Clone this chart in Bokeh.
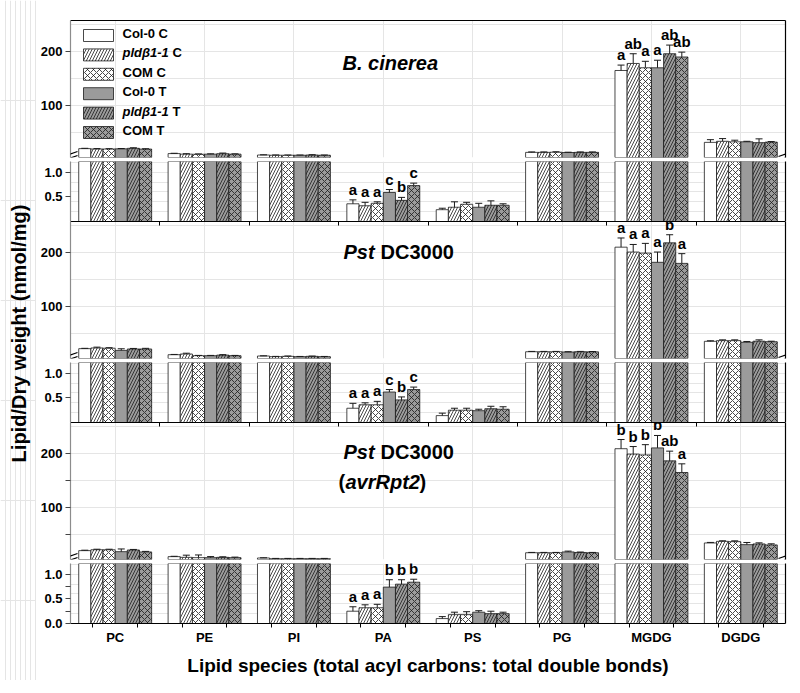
import numpy as np
from bokeh.plotting import figure
from bokeh.core.properties import value
from bokeh.models import (Range1d, LinearAxis, FixedTicker, ColumnDataSource, LabelSet,
                          Label, BoxAnnotation, Arrow, PrintfTickFormatter,
                          CDSView, BooleanFilter)
from bokeh.layouts import row, column
from bokeh.embed import file_html
from bokeh.resources import INLINE

lipids = ["PC", "PE", "PI", "PA", "PS", "PG", "MGDG", "DGDG"]
series = ["Col-0 C", "pldβ1-1 C", "COM C", "Col-0 T", "pldβ1-1 T", "COM T"]

# ---- Panel 1: B. cinerea (nmol/mg, one value per lipid) ----
bc_col0_c = [20.4, 11.2, 8.6, 0.36, 0.24, 13.5, 165.0, 32.0]
bc_pld_c  = [19.7, 10.2, 8.2, 0.32, 0.29, 13.5, 178.0, 34.0]
bc_com_c  = [19.7, 10.0, 8.2, 0.37, 0.35, 13.8, 170.0, 33.0]
bc_col0_t = [20.0, 10.2, 8.2, 0.59, 0.29, 13.2, 170.0, 33.0]
bc_pld_t  = [21.0, 11.0, 8.6, 0.43, 0.33, 13.5, 196.0, 31.5]
bc_com_t  = [19.6, 10.2, 8.2, 0.73, 0.33, 13.5, 190.0, 32.5]
bc_col0_c_err = [0.6, 0.6, 0.4, 0.08, 0.03, 0.8, 10.0, 5.0]
bc_pld_c_err  = [0.8, 0.8, 0.5, 0.07, 0.11, 0.8, 18.0, 5.0]
bc_com_c_err  = [0.6, 0.6, 0.4, 0.03, 0.04, 0.8, 12.0, 3.0]
bc_col0_t_err = [0.6, 0.6, 0.4, 0.06, 0.08, 0.6, 14.0, 1.0]
bc_pld_t_err  = [1.0, 1.2, 0.6, 0.06, 0.09, 0.8, 16.0, 7.0]
bc_com_t_err  = [0.6, 0.6, 0.4, 0.05, 0.03, 0.8, 9.0, 1.0]
bc_pa_letters   = ["a", "a", "a", "c", "b", "c"]
bc_mgdg_letters = ["a", "ab", "a", "a", "ab", "ab"]

# ---- Panel 2: Pst DC3000 ----
pst_col0_c = [22.2, 11.0, 8.6, 0.29, 0.14, 16.5, 210.0, 35.8]
pst_pld_c  = [23.5, 12.3, 7.4, 0.36, 0.25, 16.5, 201.0, 37.0]
pst_com_c  = [23.0, 9.2, 8.0, 0.36, 0.25, 16.5, 199.0, 37.0]
pst_col0_t = [19.0, 9.2, 7.4, 0.62, 0.24, 16.0, 182.0, 34.0]
pst_pld_t  = [21.6, 10.3, 8.0, 0.46, 0.28, 16.5, 218.0, 36.0]
pst_com_t  = [21.6, 9.2, 7.4, 0.67, 0.27, 16.3, 180.0, 35.0]
pst_col0_c_err = [0.6, 0.5, 0.4, 0.10, 0.05, 0.6, 17.0, 1.0]
pst_pld_c_err  = [1.5, 1.5, 0.5, 0.04, 0.04, 0.6, 14.0, 1.5]
pst_com_c_err  = [1.0, 0.5, 0.6, 0.07, 0.04, 0.6, 18.0, 1.5]
pst_col0_t_err = [3.0, 0.5, 0.4, 0.05, 0.03, 0.6, 19.0, 1.5]
pst_pld_t_err  = [1.0, 0.8, 0.5, 0.06, 0.05, 0.6, 15.0, 2.5]
pst_com_t_err  = [1.2, 0.5, 0.4, 0.05, 0.05, 0.6, 18.0, 1.0]
pst_pa_letters   = ["a", "a", "a", "c", "b", "c"]
pst_mgdg_letters = ["a", "a", "a", "a", "b", "a"]

# ---- Panel 3: Pst DC3000 (avrRpt2) ----
avr_col0_c = [20.4, 9.3, 6.8, 0.25, 0.10, 16.5, 209.0, 34.6]
avr_pld_c  = [22.0, 8.0, 5.5, 0.32, 0.18, 16.5, 199.0, 37.6]
avr_com_c  = [22.0, 7.4, 5.5, 0.32, 0.18, 16.5, 197.5, 37.0]
avr_col0_t = [18.5, 7.4, 5.5, 0.74, 0.23, 18.0, 210.5, 31.5]
avr_pld_t  = [21.6, 8.0, 5.5, 0.80, 0.20, 17.0, 186.5, 32.8]
avr_com_t  = [18.0, 7.4, 5.5, 0.84, 0.20, 16.5, 165.0, 31.0]
avr_col0_c_err = [0.8, 0.6, 0.4, 0.09, 0.04, 0.6, 17.0, 1.0]
avr_pld_c_err  = [1.0, 4.0, 0.5, 0.06, 0.05, 0.6, 14.0, 1.0]
avr_com_c_err  = [1.0, 5.0, 0.5, 0.07, 0.06, 0.6, 19.0, 1.5]
avr_col0_t_err = [5.0, 2.0, 0.5, 0.15, 0.03, 1.5, 23.0, 4.0]
avr_pld_t_err  = [1.0, 1.0, 0.5, 0.09, 0.05, 0.8, 18.0, 2.0]
avr_com_t_err  = [1.0, 1.0, 0.5, 0.06, 0.03, 0.6, 16.0, 2.0]
avr_pa_letters   = ["a", "a", "a", "b", "b", "b"]
avr_mgdg_letters = ["b", "b", "b", "b", "ab", "a"]

panels = [
    dict(means=[bc_col0_c, bc_pld_c, bc_com_c, bc_col0_t, bc_pld_t, bc_com_t],
         errs=[bc_col0_c_err, bc_pld_c_err, bc_com_c_err, bc_col0_t_err, bc_pld_t_err, bc_com_t_err],
         pa=bc_pa_letters, mgdg=bc_mgdg_letters),
    dict(means=[pst_col0_c, pst_pld_c, pst_com_c, pst_col0_t, pst_pld_t, pst_com_t],
         errs=[pst_col0_c_err, pst_pld_c_err, pst_com_c_err, pst_col0_t_err, pst_pld_t_err, pst_com_t_err],
         pa=pst_pa_letters, mgdg=pst_mgdg_letters),
    dict(means=[avr_col0_c, avr_pld_c, avr_com_c, avr_col0_t, avr_pld_t, avr_com_t],
         errs=[avr_col0_c_err, avr_pld_c_err, avr_com_c_err, avr_col0_t_err, avr_pld_t_err, avr_com_t_err],
         pa=avr_pa_letters, mgdg=avr_mgdg_letters),
]

# ---- styles / layout ----
FONT = "Liberation Sans"
GREY = "#9b9b9b"
INK = "#1a1a1a"
FILLS = ["white", "white", "white", GREY, GREY, GREY]
HATCH = [None, "right_diagonal_line", "diagonal_cross", None, "right_diagonal_line", "diagonal_cross"]
BW = 0.136
centers = np.arange(len(lipids))
offsets = (np.arange(len(series)) - (len(series) - 1) / 2) * BW
UP_RANGE = (4, 257.5)
LO_RANGE = (0, 1.22)
FRAME_W, UP_H, LO_H, GAP = 715, 137, 60, 4
LEFT_B, RIGHT_B, TOP_B, BOTTOM_B = 34, 7, 20, 57
OVERLAP_UP, OVERLAP_LO = 14, 10
YLAB_W = 36


def base_fig(yr, fh, top, bottom, overlap=0):
    p = figure(frame_width=FRAME_W, frame_height=fh,
               x_range=Range1d(-0.5, len(lipids) - 0.5), y_range=Range1d(*yr),
               x_axis_location=None, y_axis_location=None, toolbar_location=None,
               output_backend="svg", title=None,
               min_border_left=LEFT_B, min_border_right=RIGHT_B,
               min_border_top=top + overlap, min_border_bottom=bottom,
               margin=(-overlap, 0, 0, 0))
    if overlap:
        # transparent room above the frame: letters near the frame top stay inside this canvas
        p.border_fill_alpha = 0
    p.outline_line_color = None
    ra = LinearAxis(ticker=FixedTicker(ticks=[]), axis_line_color="black", axis_line_width=1.2,
                    major_tick_out=0, major_tick_in=0, minor_tick_out=0, minor_tick_in=0,
                    major_label_text_font_size="0px", major_label_standoff=0)
    p.add_layout(ra, "right")
    return p


def left_axis(p, ticks, minor, fmt=None):
    ax = LinearAxis(ticker=FixedTicker(ticks=ticks, minor_ticks=minor),
                    axis_line_color="#8c8c8c", axis_line_width=1.2,
                    major_tick_line_color="#444444", minor_tick_line_color="#444444",
                    major_tick_out=5, major_tick_in=0,
                    minor_tick_out=5 if minor else 0, minor_tick_in=0,
                    major_label_text_font=FONT, major_label_text_font_style="bold",
                    major_label_text_font_size="13px", major_label_text_color="black",
                    major_label_standoff=3)
    if fmt is not None:
        ax.formatter = fmt
    p.add_layout(ax, "left")


def top_axis(p, with_ticks):
    ax = LinearAxis(ticker=FixedTicker(ticks=[], minor_ticks=list(centers[:-1] + 0.5) if with_ticks else []),
                    axis_line_color="black", axis_line_width=1.2,
                    major_tick_out=0, major_tick_in=0, minor_tick_out=0,
                    minor_tick_in=4 if with_ticks else 0, minor_tick_line_color="black",
                    major_label_text_font_size="0px", major_label_standoff=0)
    p.add_layout(ax, "above")


def draw_bars(p, means, errs):
    lo = p.y_range.start
    for j in range(len(series)):
        m = np.array(means[j], dtype=float)
        e = np.array(errs[j], dtype=float)
        src = ColumnDataSource(dict(x=centers + offsets[j], top=m, et=m + e))
        view = CDSView(filter=BooleanFilter([bool(v > lo) for v in m]))
        p.vbar(x="x", top="top", bottom=lo, width=BW, source=src, view=view,
               fill_color=FILLS[j], line_color=INK, line_width=0.8,
               hatch_pattern=HATCH[j], hatch_color=INK, hatch_scale=6, hatch_weight=0.8)
        p.segment(x0="x", y0="top", x1="x", y1="et", source=src, view=view,
                  line_color=INK, line_width=1)
        p.scatter(x="x", y="et", source=src, view=view, marker="dash", size=7,
                  line_color=INK, line_width=1)


def letters(p, means, errs, idx, texts):
    ys = [means[j][idx] + errs[j][idx] for j in range(len(series))]
    src = ColumnDataSource(dict(x=centers[idx] + offsets, y=ys, t=texts))
    p.add_layout(LabelSet(x="x", y="y", text="t", source=src, y_offset=2,
                          text_align="center", text_baseline="bottom",
                          text_font=value(FONT), text_font_style="bold", text_font_size="15px",
                          text_color="black"))


def break_marks(p):
    for xs in (0, FRAME_W):
        for dy in (0, -4):
            p.add_layout(Arrow(x_start=xs - 7, y_start=1 + dy, x_end=xs + 7, y_end=6 + dy,
                               start_units="screen", end_units="screen", end=None, start=None,
                               line_color="black", line_width=1.3))


def txt(p, x, y, s, style="bold", size="20px"):
    p.add_layout(Label(x=x, y=y, x_units="screen", y_units="screen", text=s,
                       text_align="left", text_baseline="middle", text_font=FONT,
                       text_font_style=style, text_font_size=size, text_color="black"))


figs = []
n = len(panels)
for k, pan in enumerate(panels):
    if k == 0:
        up = base_fig(UP_RANGE, UP_H, TOP_B, GAP)
    else:
        up = base_fig(UP_RANGE, UP_H, 0, GAP, overlap=OVERLAP_UP)
    lo = base_fig(LO_RANGE, LO_H, 0, BOTTOM_B if k == n - 1 else 0, overlap=OVERLAP_LO)
    top_axis(up, with_ticks=(k > 0))
    left_axis(up, [100, 200], [50, 150] if k == n - 1 else [])
    left_axis(lo, [0, 0.5, 1.0] if k == n - 1 else [0.5, 1.0],
              [0.25, 0.75] if k == n - 1 else [], PrintfTickFormatter(format="%.1f"))
    draw_bars(up, pan["means"], pan["errs"])
    draw_bars(lo, pan["means"], pan["errs"])
    letters(up, pan["means"], pan["errs"], lipids.index("MGDG"), pan["mgdg"])
    letters(lo, pan["means"], pan["errs"], lipids.index("PA"), pan["pa"])
    break_marks(up)
    figs += [up, lo]

# panel titles
txt(figs[0], 272, 95, "B. cinerea", "bold italic")
txt(figs[2], 273, 107, "Pst", "bold italic")
txt(figs[2], 310, 107, "DC3000", "bold")
txt(figs[4], 273, 108, "Pst", "bold italic")
txt(figs[4], 310, 108, "DC3000", "bold")
txt(figs[4], 268, 78, "(", "bold")
txt(figs[4], 275, 78, "avrRpt2", "bold italic")
txt(figs[4], 349, 78, ")", "bold")

# legend inside panel 1
leg = figs[0]
for k in range(len(series)):
    ytop = 9 + 19.4 * k          # px below frame top
    top_s = UP_H - ytop
    leg.add_layout(BoxAnnotation(left=13, right=43, top=top_s, bottom=top_s - 12,
                                 left_units="screen", right_units="screen",
                                 top_units="screen", bottom_units="screen",
                                 fill_color=FILLS[k], fill_alpha=1.0, line_color=INK,
                                 line_alpha=1.0, line_width=0.8,
                                 hatch_pattern=HATCH[k], hatch_color=INK,
                                 hatch_scale=6, hatch_weight=0.8))
    name = series[k]
    if name.startswith("pld"):
        base, cond = name.split(" ")
        txt(leg, 52, top_s - 4, base, "bold italic", "13px")
        txt(leg, 102, top_s - 4, cond, "bold", "13px")
    else:
        txt(leg, 52, top_s - 4, name, "bold", "13px")

# bottom axis with lipid labels
bot = figs[-1]
bx = LinearAxis(ticker=FixedTicker(ticks=list(centers),
                                   minor_ticks=list(np.concatenate([centers - 0.25, centers + 0.25]))),
                axis_line_color="black", axis_line_width=1.2,
                major_tick_out=0, major_tick_in=0, minor_tick_out=4, minor_tick_in=0,
                minor_tick_line_color="black",
                major_label_overrides={int(i): lab for i, lab in zip(centers, lipids)},
                major_label_text_font=FONT, major_label_text_font_style="bold",
                major_label_text_font_size="13px", major_label_text_color="black",
                major_label_standoff=2,
                axis_label="Lipid species (total acyl carbons: total double bonds)",
                axis_label_text_font=FONT, axis_label_text_font_style="bold",
                axis_label_text_font_size="19px", axis_label_text_color="black",
                axis_label_standoff=7)
bot.add_layout(bx, "below")

total_h = TOP_B + n * (UP_H + GAP + LO_H) + BOTTOM_B
ylab = figure(frame_width=YLAB_W, frame_height=total_h, x_range=Range1d(0, YLAB_W),
              y_range=Range1d(total_h, 0),
              x_axis_location=None, y_axis_location=None, toolbar_location=None,
              output_backend="svg", title=None, min_border=0)
ylab.outline_line_color = None
ylab.add_layout(Label(x=18, y=333, text="Lipid/Dry weight (nmol/mg)", angle=np.pi / 2,
                      text_align="center", text_baseline="middle", text_font=FONT,
                      text_font_style="bold", text_font_size="20px", text_color="black"))

layout = row(ylab, column(*figs, spacing=0), spacing=0)
open("out.html", "w").write(file_html(layout, INLINE))
